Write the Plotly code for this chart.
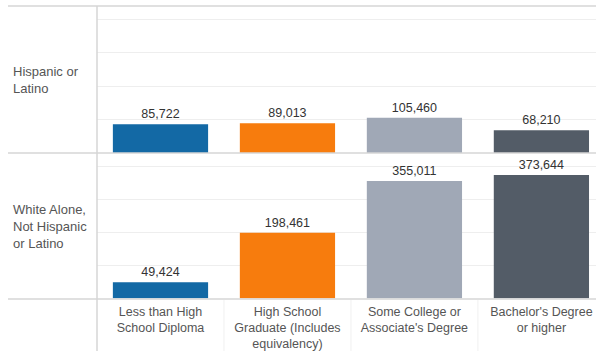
import plotly.graph_objects as go
from plotly.subplots import make_subplots

categories = ["Less than High<br>School Diploma",
              "High School<br>Graduate (Includes<br>equivalency)",
              "Some College or<br>Associate's Degree",
              "Bachelor's Degree<br>or higher"]
row_labels = ["Hispanic or<br>Latino", "White Alone,<br>Not Hispanic<br>or Latino"]
hispanic = [85722, 89013, 105460, 68210]
white = [49424, 198461, 355011, 373644]
colors = ["#1369a5", "#f77c0d", "#a0a8b6", "#535c67"]

W, H = 596, 351
def px(x): return x / W
def py(y): return 1 - y / H

fig = make_subplots(rows=2, cols=1, shared_xaxes=True, vertical_spacing=0)
xs = list(range(len(categories)))
for r, vals in enumerate([hispanic, white], start=1):
    fig.add_trace(go.Bar(
        x=xs, y=vals, marker=dict(color=colors, line=dict(width=0)),
        text=[f"{v:,}" for v in vals], textposition="outside",
        textfont=dict(size=12.5, color="#333333"), cliponaxis=False,
        width=0.75, showlegend=False, hoverinfo="skip"), row=r, col=1)

fig.update_xaxes(range=[-0.5, 3.43], domain=[px(97), 1], showgrid=False,
                 zeroline=False, showline=False, fixedrange=True, automargin=False)
fig.update_xaxes(tickvals=xs, ticktext=categories, ticks="outside", ticklen=1,
                 tickcolor="rgba(0,0,0,0)", showticklabels=True,
                 tickfont=dict(size=12.5, color="#555555"), row=2, col=1)
fig.update_yaxes(range=[0, 440000], dtick=100000, showgrid=True, gridcolor="#eeeeee",
                 gridwidth=1, zeroline=False, showticklabels=False, showline=False,
                 automargin=False)
fig.update_layout(yaxis=dict(domain=[py(153), py(6)]),
                  yaxis2=dict(domain=[py(298.5), py(153)]))

shapes = []
for y in [6, 153, 299]:
    shapes.append(dict(type="line", xref="paper", yref="paper", x0=px(8), x1=1,
                       y0=py(y), y1=py(y), line=dict(color="#d6d6d6", width=1.5)))
shapes.append(dict(type="line", xref="paper", yref="paper", x0=px(97), x1=px(97),
                   y0=py(6), y1=0, line=dict(color="#d6d6d6", width=1.5)))
for b in [0.5, 1.5, 2.5]:
    shapes.append(dict(type="line", xref="x2", yref="paper", x0=b, x1=b,
                       y0=py(300), y1=0, line=dict(color="#f0f0f0", width=1)))

annotations = []
for lab, yc in zip(row_labels, [80, 226]):
    annotations.append(dict(text=lab, xref="paper", yref="paper", x=px(11), y=py(yc),
                            xanchor="left", yanchor="middle", align="left", showarrow=False,
                            font=dict(size=13, color="#555555")))

fig.update_layout(width=W, height=H, margin=dict(l=0, r=0, t=0, b=0, autoexpand=False),
                  plot_bgcolor="white", paper_bgcolor="white", bargap=0.25,
                  font=dict(family="Arial, Liberation Sans, sans-serif"),
                  shapes=shapes, annotations=annotations)
fig.write_html("out.html")
